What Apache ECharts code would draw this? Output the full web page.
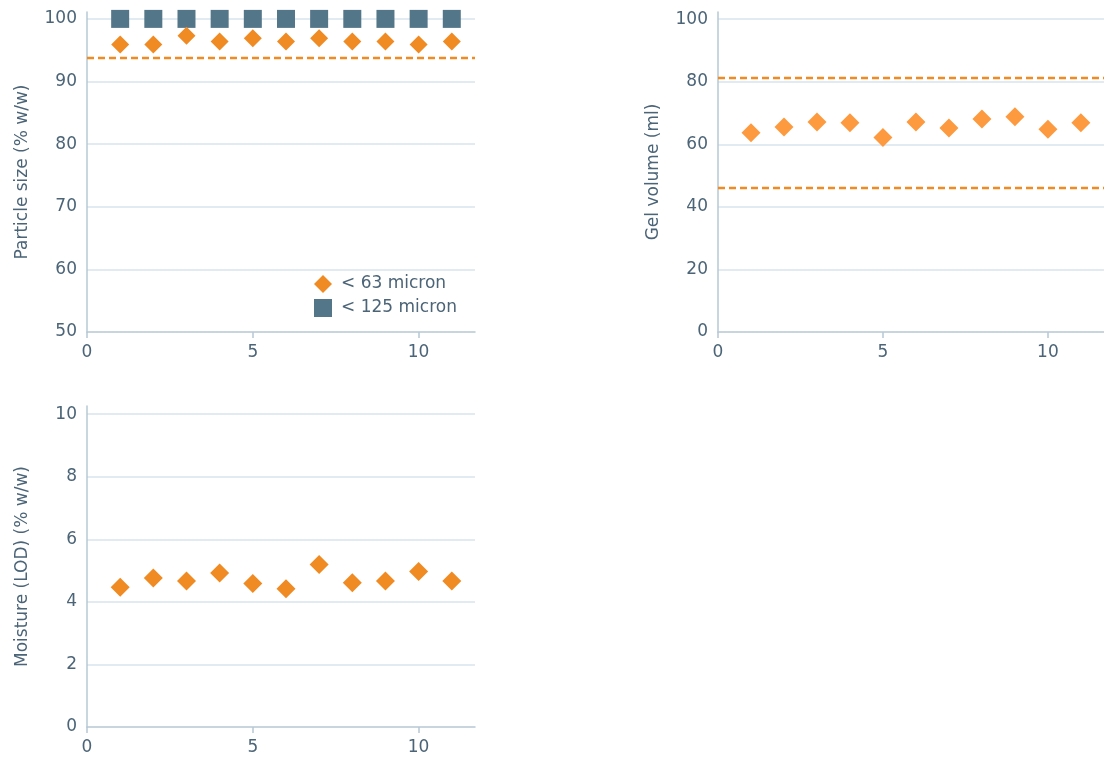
<!DOCTYPE html>
<html>
<head>
<meta charset="utf-8">
<script src="https://cdn.jsdelivr.net/npm/echarts@6/dist/echarts.min.js"></script>
<style>
  html, body { margin: 0; padding: 0; background: #ffffff; }
  #chart { width: 1104px; height: 760px; }
</style>
</head>
<body>
<div id="chart"></div>
<script>
// Batch numbers (x) shared by the three panels
const batches = [1, 2, 3, 4, 5, 6, 7, 8, 9, 10, 11];

// Particle size (% w/w)
const below125 = [100, 100, 100, 100, 100, 100, 100, 100, 100, 100, 100];
const below63 = [95.9, 95.9, 97.3, 96.4, 96.9, 96.4, 96.9, 96.4, 96.4, 95.9, 96.4];
const below63Limit = 93.8;

// Gel volume (ml)
const gelVolume = [63.7, 65.5, 67.1, 66.9, 62.2, 67.1, 65.2, 68.1, 68.8, 64.8, 66.9];
const gelLimits = [81.4, 46.2];

// Moisture (LOD) (% w/w)
const moisture = [4.47, 4.76, 4.67, 4.92, 4.59, 4.42, 5.19, 4.61, 4.67, 4.97, 4.67];

// Tick labels
const xTicks = [0, 5, 10];
const sizeTicks = [50, 60, 70, 80, 90, 100];
const gelTicks = [0, 20, 40, 60, 80, 100];
const moistureTicks = [0, 2, 4, 6, 8, 10];

const textColor = '#4b6477';
const axisColor = '#b6c8d5';
const gridColor = '#d9e5ed';
const orange = '#f08a22';
const orangeLight = '#fd9a3f';
const slate = '#537689';
const font = 'DejaVu Sans';

const pairs = ys => batches.map((x, i) => [x, ys[i]]);

function xAxis(gridIndex) {
  return {
    type: 'value', gridIndex, min: 0, max: 11.7,
    axisLine: { show: true, lineStyle: { color: axisColor, width: 1.5 } },
    axisTick: { show: true, length: 6, customValues: xTicks, lineStyle: { color: axisColor, width: 1.5 } },
    axisLabel: { customValues: xTicks, color: textColor, fontSize: 17, fontFamily: font, margin: 12 },
    splitLine: { show: false }
  };
}

function yAxis(gridIndex, min, max, interval, ticks, name) {
  return {
    type: 'value', gridIndex, min, max, interval,
    name, nameLocation: 'middle', nameGap: 56,
    nameTextStyle: { color: textColor, fontSize: 17, fontFamily: font },
    axisLine: { show: true, lineStyle: { color: axisColor, width: 1.5 } },
    axisTick: { show: false },
    axisLabel: { customValues: ticks, color: textColor, fontSize: 17, fontFamily: font, margin: 10 },
    splitLine: { show: true, showMinLine: false, showMaxLine: false, lineStyle: { color: gridColor, width: 1.5 } }
  };
}

function limitLines(values, color) {
  return {
    silent: true,
    symbol: ['none', 'none'],
    label: { show: false },
    lineStyle: { color, type: [7, 4], width: 2.4 },
    data: values.map(v => ({ yAxis: v }))
  };
}

const chart = echarts.init(document.getElementById('chart'), null, { renderer: 'canvas' });

chart.setOption({
  animation: false,
  backgroundColor: '#ffffff',
  grid: [
    { left: 87, top: 12, width: 388, height: 320 },
    { left: 718, top: 12, width: 388, height: 320 },
    { left: 87, top: 406, width: 388, height: 321 }
  ],
  xAxis: [xAxis(0), xAxis(1), xAxis(2)],
  yAxis: [
    yAxis(0, 50, 101.1, 10, sizeTicks, 'Particle size (% w/w)'),
    yAxis(1, 0, 102.3, 20, gelTicks, 'Gel volume (ml)'),
    yAxis(2, 0, 10.26, 2, moistureTicks, 'Moisture (LOD) (% w/w)')
  ],
  legend: {
    orient: 'vertical',
    left: 314, top: 275, padding: 0,
    itemWidth: 18, itemHeight: 18, itemGap: 6,
    textStyle: { color: textColor, fontSize: 17, fontFamily: font, padding: [0, 0, 0, 4] },
    data: [
      { name: '< 63 micron', icon: 'diamond' },
      { name: '< 125 micron', icon: 'rect' }
    ]
  },
  series: [
    {
      name: '< 125 micron', type: 'scatter', xAxisIndex: 0, yAxisIndex: 0,
      symbol: 'rect', symbolSize: 18, itemStyle: { color: slate, opacity: 1 },
      data: pairs(below125)
    },
    {
      name: '< 63 micron', type: 'scatter', xAxisIndex: 0, yAxisIndex: 0,
      symbol: 'diamond', symbolSize: 18, itemStyle: { color: orange, opacity: 1 },
      data: pairs(below63),
      markLine: limitLines([below63Limit], orange)
    },
    {
      name: 'Gel volume', type: 'scatter', xAxisIndex: 1, yAxisIndex: 1,
      symbol: 'diamond', symbolSize: 19, itemStyle: { color: orangeLight, opacity: 1 },
      data: pairs(gelVolume),
      markLine: limitLines(gelLimits, orange)
    },
    {
      name: 'Moisture', type: 'scatter', xAxisIndex: 2, yAxisIndex: 2,
      symbol: 'diamond', symbolSize: 19, itemStyle: { color: orange, opacity: 1 },
      data: pairs(moisture)
    }
  ]
});
</script>
</body>
</html>
